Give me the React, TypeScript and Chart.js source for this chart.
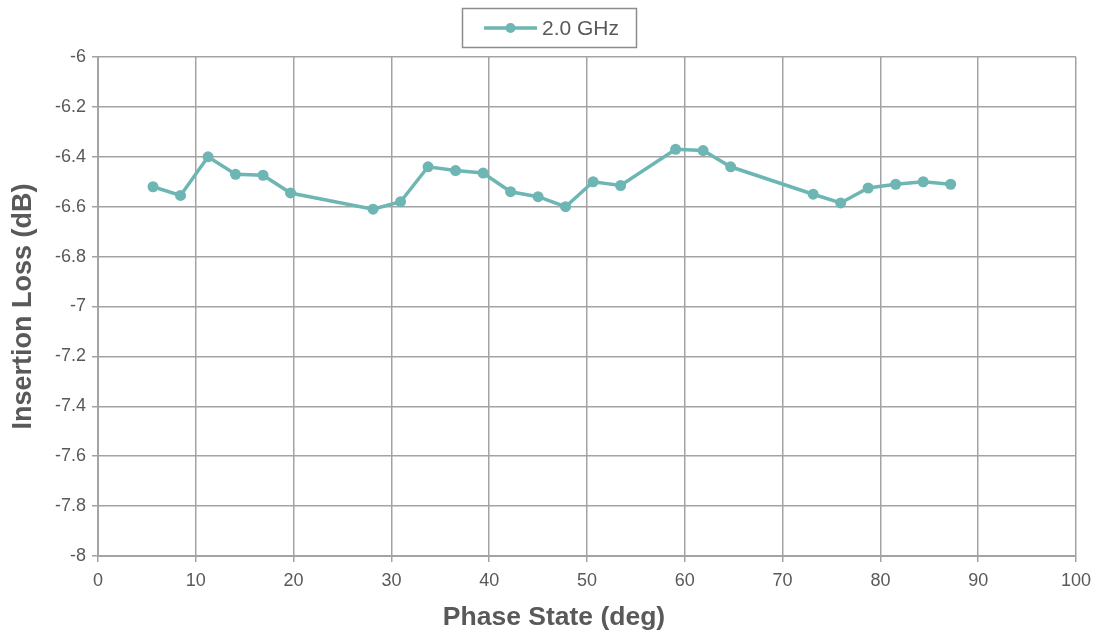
import React, { useEffect, useRef } from "react";
import { Chart, registerables } from "chart.js";

Chart.register(...registerables);

const seriesLabel = "2.0 GHz";
const phaseStates = [
  5.625, 8.4375, 11.25, 14.0625, 16.875, 19.6875, 28.125, 30.9375, 33.75, 36.5625,
  39.375, 42.1875, 45, 47.8125, 50.625, 53.4375, 59.0625, 61.875, 64.6875, 73.125,
  75.9375, 78.75, 81.5625, 84.375, 87.1875,
];
const insertionLoss = [
  -6.52, -6.555, -6.4, -6.47, -6.474, -6.545, -6.61, -6.58, -6.44, -6.455,
  -6.465, -6.54, -6.56, -6.6, -6.5, -6.515, -6.37, -6.375, -6.44, -6.55,
  -6.585, -6.525, -6.51, -6.5, -6.51,
];
const xTitle = "Phase State (deg)";
const yTitle = "Insertion Loss (dB)";

const LINE = "#6db6b3";
const GRID = "#a3a3a3";
const TEXT = "#595959";
const FONT = "'Liberation Sans', Arial, sans-serif";

export default function App() {
  const ref = useRef<HTMLCanvasElement>(null);
  useEffect(() => {
    if (!ref.current) return;
    const overlay = {
      id: "overlay",
      afterDraw(chart: any) {
        const ctx = chart.ctx;
        ctx.save();
        // legend box
        ctx.strokeStyle = "#8c8c8c";
        ctx.lineWidth = 1.5;
        ctx.strokeRect(462.5, 8.5, 174, 39);
        ctx.strokeStyle = LINE;
        ctx.lineWidth = 3.5;
        ctx.beginPath();
        ctx.moveTo(484, 28);
        ctx.lineTo(537, 28);
        ctx.stroke();
        ctx.fillStyle = LINE;
        ctx.beginPath();
        ctx.arc(510.5, 28, 5, 0, Math.PI * 2);
        ctx.fill();
        ctx.fillStyle = TEXT;
        ctx.font = `21px ${FONT}`;
        ctx.textBaseline = "middle";
        ctx.textAlign = "left";
        ctx.fillText(seriesLabel, 542, 29);
        // x title
        ctx.font = `bold 26.5px ${FONT}`;
        ctx.textAlign = "center";
        ctx.fillText(xTitle, 554, 618);
        ctx.restore();
      },
    };
    const chart = new Chart(ref.current, {
      type: "line",
      data: {
        datasets: [
          {
            label: seriesLabel,
            data: phaseStates.map((x, i) => ({ x, y: insertionLoss[i] })),
            borderColor: LINE,
            backgroundColor: LINE,
            borderWidth: 3.5,
            pointRadius: 5.5,
            pointHoverRadius: 5.5,
            pointBorderWidth: 0,
            tension: 0,
          },
        ],
      },
      options: {
        animation: false,
        responsive: false,
        devicePixelRatio: 1,
        layout: { padding: { left: 0, top: 57, right: 23, bottom: 0 } },
        plugins: { legend: { display: false }, tooltip: { enabled: false } },
        scales: {
          x: {
            type: "linear",
            min: 0,
            max: 100,
            ticks: { stepSize: 10, color: TEXT, font: { size: 18, family: FONT }, padding: 8 },
            grid: { color: GRID, lineWidth: 1.5, tickLength: 6 },
            border: { color: GRID, width: 2 },
            afterFit(scale: any) {
              scale.height = 79;
            },
          },
          y: {
            min: -8,
            max: -6,
            ticks: {
              stepSize: 0.2,
              color: TEXT,
              font: { size: 18, family: FONT },
              padding: 6,
              callback: (v: any) => String(Math.round(Number(v) * 10) / 10),
            },
            grid: { color: GRID, lineWidth: 1.5, tickLength: 6 },
            border: { color: GRID, width: 2 },
            title: {
              display: true,
              text: yTitle,
              color: TEXT,
              font: { size: 27, weight: "bold", family: FONT },
              padding: { top: 7, bottom: 7 },
            },
            afterFit(scale: any) {
              scale.width = 98;
            },
          },
        },
      },
      plugins: [overlay],
    });
    return () => chart.destroy();
  }, []);
  return (
    <div style={{ position: "fixed", left: 0, top: 0, width: 1099, height: 635, background: "#fff" }}>
      <canvas ref={ref} width={1099} height={635} style={{ width: 1099, height: 635 }} />
    </div>
  );
}
